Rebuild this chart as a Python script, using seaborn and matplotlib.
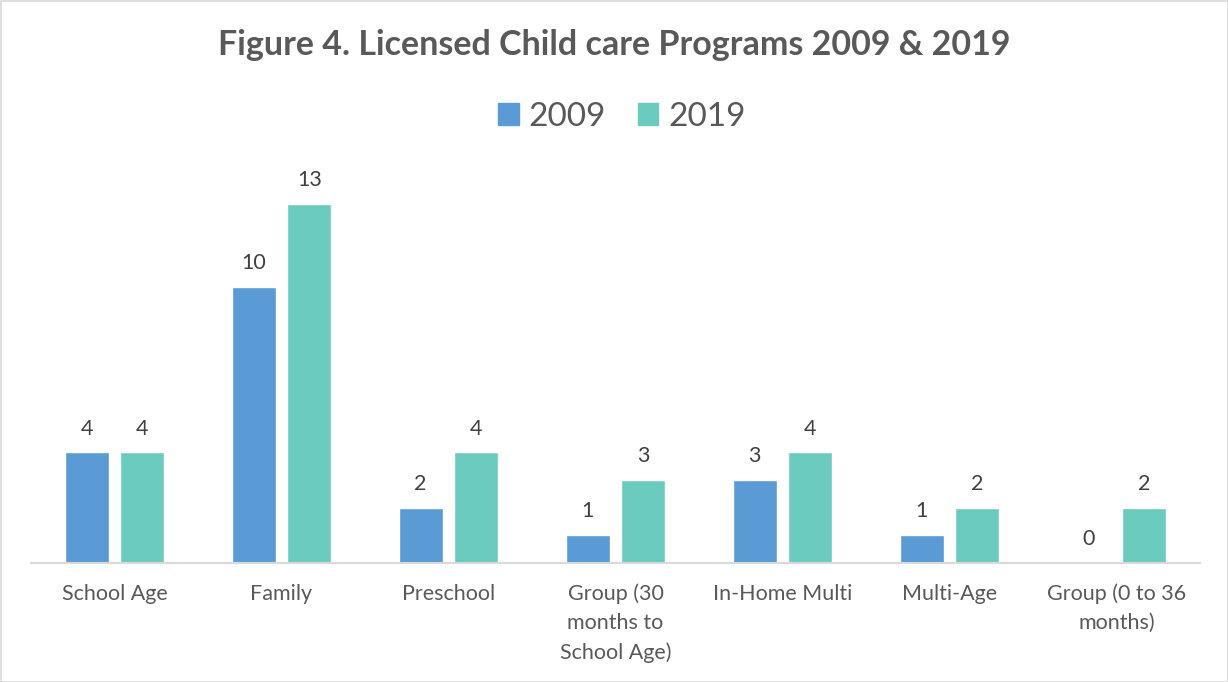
import matplotlib
matplotlib.use("Agg")
import matplotlib.pyplot as plt
import seaborn as sns
import pandas as pd
from matplotlib.patches import Rectangle

categories = ["School Age", "Family", "Preschool", "Group (30\nmonths to\nSchool Age)",
              "In-Home Multi", "Multi-Age", "Group (0 to 36\nmonths)"]
values_2009 = [4, 10, 2, 1, 3, 1, 0]
values_2019 = [4, 13, 4, 3, 4, 2, 2]
series = ["2009", "2019"]
colors = ["#5B9BD5", "#6BCBBE"]

df = pd.DataFrame({
    "category": categories * 2,
    "value": values_2009 + values_2019,
    "year": [series[0]] * len(categories) + [series[1]] * len(categories),
})

sns.set_theme(style="white")
plt.rcParams["font.family"] = ["Lato", "DejaVu Sans"]

fig = plt.figure(figsize=(12.28, 6.82), dpi=100)
ax = fig.add_axes([31/1228, 1 - 563/682, 1169/1228, (563 - 176)/682])

sns.barplot(data=df, x="category", y="value", hue="year", palette=colors,
            width=0.67, gap=0.214, ax=ax, legend=False, saturation=1)

for cont in ax.containers:
    ax.bar_label(cont, padding=10, fontsize=15.5, color="#404040")

ax.set_ylim(0, 14)
ax.set_xlim(-0.5, len(categories) - 0.5)
ax.set_xlabel("")
ax.set_ylabel("")
ax.set_yticks([])
for s in ["top", "right", "left"]:
    ax.spines[s].set_visible(False)
ax.spines["bottom"].set_color("#D9D9D9")
ax.spines["bottom"].set_linewidth(1.5)
ax.tick_params(axis="x", length=0, pad=15, labelsize=15.5, labelcolor="#595959")
for t in ax.get_xticklabels():
    t.set_linespacing(1.55)
    t.set_verticalalignment("top")

fig.text(0.5, 1 - 45/682, "Figure 4. Licensed Child care Programs 2009 & 2019",
         ha="center", va="center", fontsize=24.5, fontweight="bold", color="#595959")

handles = [Rectangle((0, 0), 1, 1, color=c) for c in colors]
fig.legend(handles, series, loc="center", bbox_to_anchor=(0.5065, 1 - 117/682),
           ncol=2, frameon=False, fontsize=24, labelcolor="#595959",
           handlelength=0.62, handleheight=0.62, handletextpad=0.3, columnspacing=0.95)

fig.patches.append(Rectangle((0.5/1228, 0.5/682), 1 - 1/1228, 1 - 1/682,
                             transform=fig.transFigure, fill=False,
                             edgecolor="#D9D9D9", linewidth=1.2))

fig.savefig("out.png", dpi=100)
